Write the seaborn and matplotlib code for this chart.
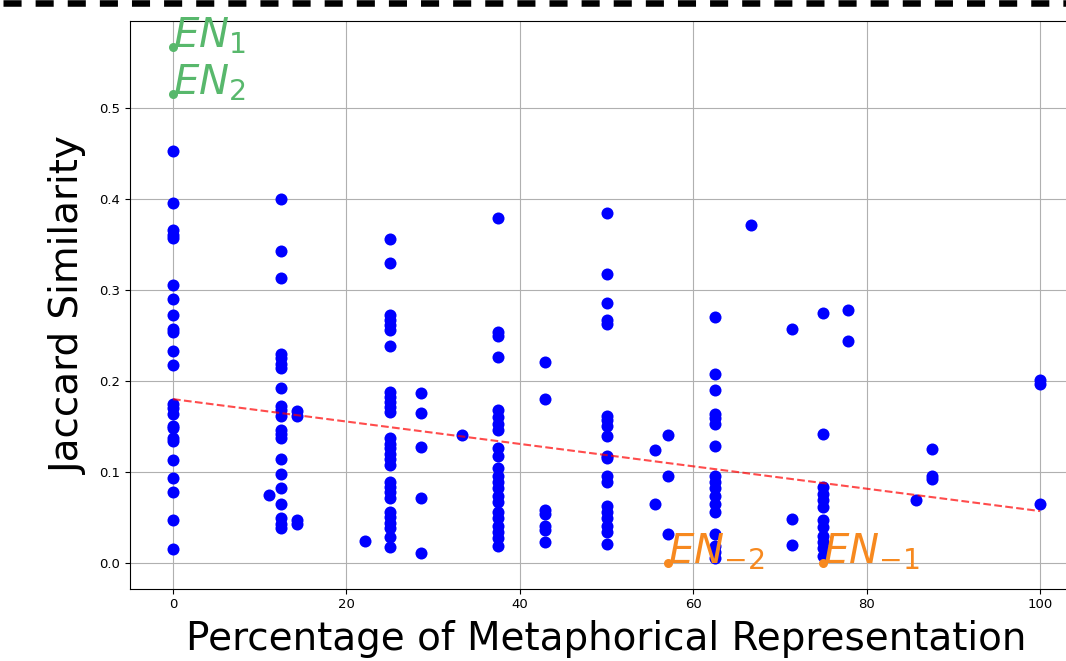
import pandas as pd
import seaborn as sns
import matplotlib.pyplot as plt
from matplotlib.lines import Line2D

# percentage levels (x) and the Jaccard scores observed at each level
pct_levels = [0, 11.1, 12.5, 14.3, 22.2, 25, 28.6, 33.3, 37.5, 42.9, 50,
              55.6, 57.1, 62.5, 66.7, 71.4, 75, 77.8, 85.7, 87.5, 100]
jaccard_by_level = [
    [0.453, 0.395, 0.366, 0.360, 0.357, 0.305, 0.290, 0.272, 0.257, 0.254, 0.233, 0.218,
     0.175, 0.170, 0.164, 0.151, 0.148, 0.137, 0.134, 0.113, 0.093, 0.078, 0.047, 0.015],
    [0.075],
    [0.400, 0.343, 0.313, 0.230, 0.225, 0.219, 0.214, 0.192, 0.173, 0.168, 0.162,
     0.146, 0.142, 0.137, 0.114, 0.098, 0.082, 0.065, 0.049, 0.043, 0.038],
    [0.167, 0.162, 0.047, 0.043],
    [0.024],
    [0.356, 0.330, 0.272, 0.267, 0.261, 0.256, 0.238, 0.188, 0.182, 0.177, 0.171, 0.166,
     0.137, 0.131, 0.126, 0.120, 0.114, 0.108, 0.089, 0.084, 0.078, 0.071, 0.056, 0.050,
     0.044, 0.038, 0.029, 0.018],
    [0.187, 0.165, 0.127, 0.071, 0.011],
    [0.141],
    [0.379, 0.254, 0.249, 0.226, 0.168, 0.160, 0.153, 0.146, 0.126, 0.118, 0.104, 0.096,
     0.089, 0.082, 0.074, 0.067, 0.056, 0.049, 0.041, 0.034, 0.027, 0.019],
    [0.221, 0.180, 0.058, 0.054, 0.041, 0.036, 0.023],
    [0.385, 0.317, 0.286, 0.267, 0.263, 0.162, 0.157, 0.151, 0.140, 0.118, 0.115, 0.096,
     0.089, 0.063, 0.056, 0.049, 0.041, 0.034, 0.021],
    [0.124, 0.065],
    [0.141, 0.096, 0.032],
    [0.270, 0.208, 0.190, 0.164, 0.159, 0.153, 0.129, 0.096, 0.089, 0.082, 0.074, 0.065,
     0.056, 0.032, 0.019, 0.012, 0.005],
    [0.371],
    [0.257, 0.048, 0.020],
    [0.275, 0.142, 0.084, 0.076, 0.069, 0.061, 0.047, 0.040, 0.030, 0.023, 0.016, 0.008],
    [0.278, 0.244],
    [0.069],
    [0.125, 0.096, 0.092],
    [0.201, 0.197, 0.065],
]

# trend line (ends of the fitted line)
trend_pct = [0, 100]
trend_jaccard = [0.180, 0.057]

# labelled examples
top_labels = ["$EN_1$", "$EN_2$"]
top_pct = [0, 0]
top_jaccard = [0.567, 0.515]
bottom_labels = ["$EN_{-2}$", "$EN_{-1}$"]
bottom_pct = [57.1, 75]
bottom_jaccard = [0.0, 0.0]

green = "#58b86c"
orange = "#f7891f"

rows = [(p, j) for p, vals in zip(pct_levels, jaccard_by_level) for j in vals]
df = pd.DataFrame(rows, columns=["pct", "jaccard"])

fig = plt.figure(figsize=(10.66, 6.61), dpi=100)
ax = fig.add_axes([0.1216, 0.1093, 0.8947, 0.8587])

sns.scatterplot(data=df, x="pct", y="jaccard", color="blue", s=75, linewidth=0, ax=ax, zorder=3)
sns.lineplot(x=trend_pct, y=trend_jaccard, color="red", alpha=0.7, lw=1.5,
             linestyle="--", ax=ax, zorder=4)

ax.scatter(top_pct, top_jaccard, color=green, s=30, zorder=5)
for x, y, t in zip(top_pct, top_jaccard, top_labels):
    ax.text(x, y, t, color=green, fontsize=29, zorder=6)
ax.scatter(bottom_pct, bottom_jaccard, color=orange, s=30, zorder=5)
for x, y, t in zip(bottom_pct, bottom_jaccard, bottom_labels):
    ax.text(x, y, t, color=orange, fontsize=29, zorder=6)

ax.grid(True)
ax.set_xticks([0, 20, 40, 60, 80, 100])
ax.set_yticks([0.0, 0.1, 0.2, 0.3, 0.4, 0.5])
ax.tick_params(labelsize=9.5)
ax.set_xlabel("Percentage of Metaphorical Representation", fontsize=28, labelpad=6)
ax.set_ylabel("Jaccard Similarity", fontsize=28, labelpad=8)

# dashed frame edge along the top of the picture
fig.add_artist(Line2D([0.003, 1.0], [1 - 3.2 / 661, 1 - 3.2 / 661], color="black",
                      lw=4.7, linestyle=(0, (2.77, 2.15))))

fig.savefig("out.png", dpi=100)
